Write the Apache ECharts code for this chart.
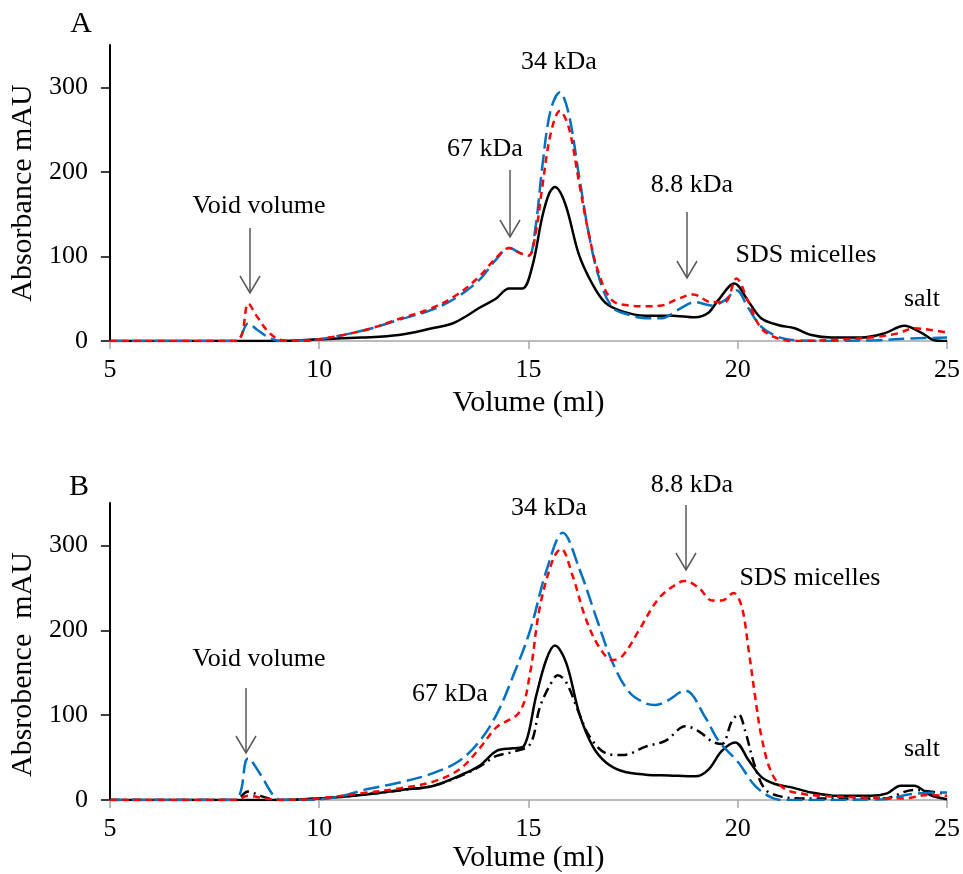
<!DOCTYPE html>
<html>
<head>
<meta charset="utf-8">
<script src="https://cdn.jsdelivr.net/npm/echarts@6/dist/echarts.min.js"></script>
<style>
  html, body { margin: 0; padding: 0; background: #fff; }
  #chart { width: 963px; height: 874px; }
</style>
</head>
<body>
<div id="chart"></div>
<script>
// panel A: [volume ml, absorbance mAU]
var aBlack = [[5,0],[9,0],[10,2],[11,4],[11.9,7],[12.7,15],[13.2,21],[13.5,29],[13.82,39],[14.22,50],[14.54,62],[14.85,62],[15.09,88],[15.33,147],[15.5,175],[15.63,182],[15.88,162],[16.2,103],[16.52,68],[16.84,45],[17.24,35],[17.79,30],[18.42,30],[18.98,28],[19.29,33],[19.53,48],[19.92,68],[20.24,48],[20.56,27],[20.96,19],[21.36,15],[21.76,7],[22.24,4],[22.95,4],[23.5,9],[23.98,18],[24.38,10],[24.7,1],[25,0]];
var aBlue = [[5,0],[8.0,0],[8.31,21],[8.5,14],[8.8,4],[9.1,0],[9.5,0.5],[10,2],[11.1,13],[11.9,25],[12.7,37],[13.3,52],[13.82,72],[14.22,96],[14.54,110],[14.8,104],[15.01,101],[15.17,135],[15.33,206],[15.53,273],[15.75,294],[15.96,269],[16.2,198],[16.44,127],[16.68,76],[17.0,40],[17.4,31],[17.79,27],[18.19,27],[18.58,37],[18.98,46],[19.37,42],[19.69,48],[19.97,60],[20.24,40],[20.56,17],[20.96,5],[21.36,1],[22,0],[23.34,1],[24.14,3],[25,4]];
var aRed = [[5,0],[8.0,0],[8.31,44],[8.5,30],[8.8,10],[9.1,1],[9.5,0],[10,2],[11.1,13],[11.9,26],[12.7,39],[13.3,55],[13.82,76],[14.22,98],[14.54,110],[14.8,104],[15.01,101],[15.17,127],[15.33,182],[15.53,245],[15.75,272],[15.96,253],[16.2,190],[16.44,127],[16.68,80],[17.0,48],[17.4,42],[17.79,41],[18.19,42],[18.58,50],[18.94,55],[19.37,46],[19.69,46],[19.97,74],[20.24,48],[20.56,15],[20.96,3],[21.36,0],[22.55,2],[23.34,5],[23.82,9],[24.22,15],[24.62,13],[25,10]];

// panel B
var bBlack = [[5,0],[9,0],[10,2],[11,6],[11.97,12],[12.74,17],[13.5,32],[13.85,41],[14.24,58],[14.64,61],[14.88,63],[15.19,124],[15.43,166],[15.63,182],[15.9,162],[16.22,101],[16.54,63],[16.86,44],[17.25,34],[17.8,30],[18.36,29],[18.99,28],[19.3,36],[19.62,58],[19.94,68],[20.26,47],[20.57,27],[20.89,19],[21.29,15],[21.76,9],[22.39,5],[23.18,5],[23.57,8],[23.89,17],[24.21,17],[24.6,6],[25,1]];
var bDashDot = [[5,0],[8.0,0],[8.3,10],[8.6,5],[9.0,0],[10,2],[11,6],[12,12],[12.74,17],[13.5,31],[13.85,40],[14.24,52],[14.64,57],[15.04,66],[15.27,109],[15.51,135],[15.7,147],[15.9,139],[16.22,101],[16.46,75],[16.86,55],[17.25,53],[17.8,63],[18.28,70],[18.75,87],[19.07,81],[19.39,69],[19.62,66],[19.86,93],[20.02,101],[20.18,81],[20.41,40],[20.65,13],[20.97,5],[21.5,2],[23.5,2],[24.2,12],[24.6,10],[25,7]];
var bBlue = [[5,0],[7.95,0],[8.3,49],[8.6,30],[8.9,6],[9.1,0],[9.6,0],[10.37,3],[11.16,13],[11.95,21],[12.74,32],[13.37,47],[13.84,70],[14.24,101],[14.64,147],[15.04,200],[15.44,272],[15.82,315],[16.22,272],[16.62,215],[17.01,162],[17.41,127],[17.8,114],[18.04,112],[18.28,116],[18.75,129],[19.23,97],[19.54,70],[20.02,44],[20.41,17],[20.81,3],[21.13,0],[23.5,1],[24.13,7],[25,9]];
var bRed = [[5,0],[8.0,0],[8.3,5],[8.7,2],[9.1,0],[10,2],[11,8],[11.95,14],[12.74,22],[13.37,37],[13.85,62],[14.24,86],[14.79,104],[15.04,150],[15.27,227],[15.59,284],[15.78,296],[16.05,265],[16.36,215],[16.68,181],[17.01,165],[17.25,170],[17.64,200],[18.12,238],[18.59,256],[18.75,258],[19.07,250],[19.39,235],[19.62,235],[19.9,244],[20.1,227],[20.26,177],[20.41,124],[20.57,74],[20.81,32],[21.13,13],[21.6,7],[22,5],[23,3],[24,2],[24.53,6],[25,5]];

var yTicks = [0, 100, 200, 300];

var FONT = '"Liberation Serif", "Times New Roman", serif';
var BLUE = '#0070C0';
var RED = '#FF0000';
var ARROW = '#595959';

function xAx(idx, gap) {
    return {
        type: 'value', gridIndex: idx, min: 5, max: 25, interval: 5,
        name: 'Volume (ml)', nameLocation: 'middle', nameGap: gap,
        nameTextStyle: { fontFamily: FONT, fontSize: 30, color: '#000' },
        axisLine: { onZero: false, lineStyle: { color: '#a6a6a6', width: 1.5 } },
        axisTick: { length: 8, lineStyle: { color: '#a6a6a6', width: 1.5 } },
        axisLabel: { fontFamily: FONT, fontSize: 26, color: '#000', margin: 16 },
        splitLine: { show: false }
    };
}

function yAx(idx, name, pad) {
    return {
        type: 'value', gridIndex: idx, min: 0, max: 350, interval: 100,
        name: name, nameLocation: 'middle', nameGap: 68,
        nameTextStyle: { fontFamily: FONT, fontSize: 30, color: '#000', padding: pad },
        axisLine: { show: true, lineStyle: { color: '#000', width: 2 } },
        axisTick: { show: true, length: 9, customValues: yTicks, lineStyle: { color: '#000', width: 1.5 } },
        axisLabel: { fontFamily: FONT, fontSize: 26, color: '#000', margin: 22, customValues: yTicks },
        splitLine: { show: false }
    };
}

function line(idx, data, color, type, z) {
    return {
        type: 'line', xAxisIndex: idx, yAxisIndex: idx, data: data,
        showSymbol: false, smooth: 0.35, z: z,
        lineStyle: { color: color, width: 2.5, type: type }
    };
}

function label(text, x, y, size) {
    return {
        type: 'text', x: x, y: y, z: 100,
        style: { text: text, fontFamily: FONT, fontSize: size || 26, fill: '#000', align: 'center', verticalAlign: 'middle' }
    };
}

function arrow(x, y1, y2) {
    return [
        { type: 'line', z: 100, shape: { x1: x, y1: y1, x2: x, y2: y2 }, style: { stroke: ARROW, lineWidth: 1.5 } },
        { type: 'polyline', z: 100, shape: { points: [[x - 10, y2 - 17], [x, y2], [x + 10, y2 - 17]] }, style: { stroke: ARROW, lineWidth: 1.5, fill: null } }
    ];
}

var graphics = [
    label('A', 81, 24, 30),
    label('Void volume', 259, 206),
    label('67 kDa', 485, 149),
    label('34 kDa', 559, 62),
    label('8.8 kDa', 692, 185),
    label('SDS micelles', 806, 255),
    label('salt', 922, 299),
    label('B', 79, 487, 30),
    label('Void volume', 259, 659),
    label('67 kDa', 450, 694),
    label('34 kDa', 549, 508),
    label('8.8 kDa', 692, 485),
    label('SDS micelles', 810, 578),
    label('salt', 922, 749)
].concat(arrow(250, 228, 293), arrow(510, 170, 237), arrow(687, 212, 278),
         arrow(246, 688, 753), arrow(686, 505, 570));

var chart = echarts.init(document.getElementById('chart'));
chart.setOption({
    backgroundColor: '#fff',
    animation: false,
    grid: [
        { left: 109, top: 45, width: 841, height: 296 },
        { left: 107, top: 503, width: 843, height: 305 }
    ],
    xAxis: [xAx(0, 47), xAx(1, 38)],
    yAxis: [yAx(0, 'Absorbance mAU', 0), yAx(1, 'Absrobence  mAU', [0, 26, 0, 0])],
    series: [
        line(0, aBlack, '#000', 'solid', 3),
        line(0, aBlue, BLUE, [16, 6], 4),
        line(0, aRed, RED, [7, 5], 5),
        line(1, bBlack, '#000', 'solid', 3),
        line(1, bDashDot, '#000', [10, 5, 2, 5], 4),
        line(1, bBlue, BLUE, [16, 6], 5),
        line(1, bRed, RED, [7, 5], 6)
    ],
    graphic: graphics
});
</script>
</body>
</html>
